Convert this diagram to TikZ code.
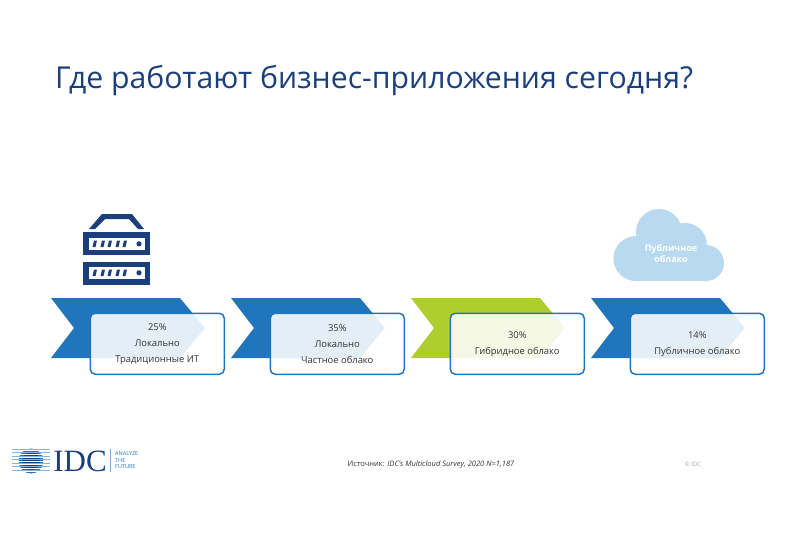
\documentclass[tikz,border=0pt]{standalone}
\usepackage{fontspec}
\setmainfont{Open Sans}
\newfontfamily\logofont{Liberation Serif}
\definecolor{navy}{HTML}{1A3F7C}
\definecolor{midblue}{HTML}{2175BC}
\definecolor{leaf}{HTML}{AECD2F}
\definecolor{cloudblue}{HTML}{B9D9F1}
\definecolor{bodygray}{HTML}{333333}
\tikzset{
  bandbox/.style={draw=midblue,line width=1.5pt,rounded corners=5pt,fill=white,fill opacity=.88,
    text opacity=1,minimum width=134pt,minimum height=61pt,anchor=north west},
  bandtext/.style={text=bodygray,font=\fontsize{9.4}{16}\selectfont,align=center},
  cloudtext/.style={text=white,font=\fontsize{9}{11}\selectfont\bfseries,align=center},
}
\newcommand{\bandshape}[2]{\fill[#2] (#1,298) -- ++(129,0) -- ++(25,30) -- ++(-25,30) -- ++(-129,0) -- ++(23,-30) -- cycle;}
\begin{document}
\begin{tikzpicture}[x=1pt,y=-1pt]
  \useasboundingbox (0,0) rectangle (800,533);
  \node[anchor=base west,inner sep=0pt,text=navy,font=\fontsize{30.2}{36}\selectfont] (title) at (55,88) {Где работают бизнес-приложения сегодня?};
  % server
  \fill[navy] (89,229) -- (102,214) -- (132,214) -- (144,229) -- (138,229) -- (129,219) -- (105,219) -- (95,229) -- cycle;
  \foreach \ytop/\ybox in {232/238,262/267} {
    \fill[navy] (83,\ytop) rectangle ++(67,23);
    \fill[white] (89,\ybox) rectangle ++(56,11.5);
    \fill[navy] (139,\ybox+5.8) circle (2.6);
    \foreach \xbar in {94,102,109,117,124}
      \fill[navy] (\xbar,\ybox+2.5) -- ++(3,0) -- ++(-1.5,6.5) -- ++(-3,0) -- cycle;
  }
  % cloud
  \fill[cloudblue] (636,240) rectangle (706,281);
  \fill[cloudblue] (636,258.5) circle (22.5);
  \fill[cloudblue] (659,232) circle (23);
  \fill[cloudblue] (685,245) circle (22);
  \fill[cloudblue] (706,263) circle (18);
  \node[cloudtext] (cloudlabel) at (671,253.5) {Публичное\\облако};
  % bands
  \bandshape{51}{midblue}
  \bandshape{231}{midblue}
  \bandshape{411}{leaf}
  \bandshape{591}{midblue}
  \node[bandbox] (boxa) at (89.5,312.5) {};
  \node[bandbox] (boxb) at (269.5,312.5) {};
  \node[bandbox] (boxc) at (449.5,312.5) {};
  \node[bandbox] (boxd) at (629.5,312.5) {};
  \node[bandtext] (texta) at (boxa.center) {25\%\\Локально\\Традиционные ИТ};
  \node[bandtext] (textb) at (boxb.center) {35\%\\Локально\\Частное облако};
  \node[bandtext,yshift=-.5pt] (textc) at (boxc.center) {30\%\\Гибридное облако};
  \node[bandtext,yshift=-.5pt] (textd) at (boxd.center) {14\%\\Публичное облако};
  % logo
  \fill[midblue] (31,461) circle (12.5);
  \fill[navy] (31,461) circle (9);
  \foreach \yline in {450.5,454,457.5,461,464.5,468,471.5} {
    \draw[white,line width=1pt] (12,\yline) -- (50,\yline);
  }
  \foreach \yline in {449,452.5,456,459.5,463,466.5,470} {
    \draw[midblue!55,line width=.5pt] (12,\yline) -- (50,\yline);
  }
  \node[inner sep=0pt,text=navy,font=\logofont\fontsize{31}{31}\selectfont] (idc) at (80,461) {IDC};
  \draw[midblue!60,line width=.5pt] (110,449) -- (110,472);
  \node[anchor=west,inner sep=0pt,text=midblue,font=\fontsize{5.5}{6.5}\selectfont,align=left] (slogan) at (115,460.5) {ANALYZE\\THE\\FUTURE};
  % footer
  \node[inner sep=0pt,text=bodygray,font=\fontsize{7.5}{9}\selectfont\itshape] (source) at (431,465) {{\upshape Источник:} IDC's Multicloud Survey, 2020 N=1,187};
  \node[inner sep=0pt,text=black!35,font=\fontsize{6}{8}\selectfont] (copyr) at (693,464) {© IDC};
\end{tikzpicture}
\end{document}
